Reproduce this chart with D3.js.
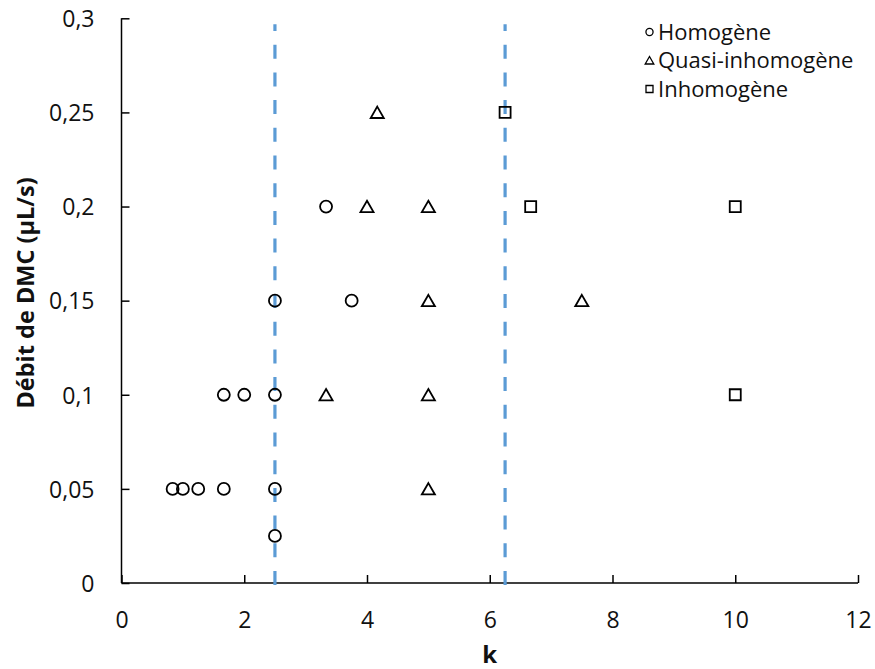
<!DOCTYPE html>
<html><head><meta charset="utf-8">
<script src="https://cdn.jsdelivr.net/npm/d3@7"></script>
<style>body{margin:0;background:#fff}svg{display:block}</style>
</head><body>
<svg id="c" width="875" height="669"></svg>
<script>
const homogeneK = [0.833, 1, 1.25, 1.667, 1.667, 2, 2.5, 2.5, 2.5, 2.5, 3.333, 3.75];
const homogeneQ = [0.05, 0.05, 0.05, 0.05, 0.1, 0.1, 0.1, 0.15, 0.05, 0.025, 0.2, 0.15];
const quasiK = [4.167, 4, 5, 5, 7.5, 3.333, 5, 5];
const quasiQ = [0.25, 0.2, 0.2, 0.15, 0.15, 0.1, 0.1, 0.05];
const inhomK = [6.25, 6.667, 10, 10];
const inhomQ = [0.25, 0.2, 0.2, 0.1];
const limitsK = [2.5, 6.25];
const xTicks = [0, 2, 4, 6, 8, 10, 12];
const yTicks = [0, 0.05, 0.1, 0.15, 0.2, 0.25, 0.3];
const legendLabels = ["Homogène", "Quasi-inhomogène", "Inhomogène"];
const xTitle = "k";
const yTitle = "Débit de DMC (µL/s)";

const svg = d3.select("#c");
const font = "'Open Sans', sans-serif";
const x = d3.scaleLinear().domain([0, 12]).range([121.5, 858]);
const y = d3.scaleLinear().domain([0, 0.3]).range([583, 18.3]);
const fmt = d => String(d).replace(".", ",");

// axes
const gx = svg.append("g").attr("transform", `translate(0,${y(0)})`)
  .call(d3.axisBottom(x).tickValues(xTicks).tickSize(-8).tickPadding(29).tickFormat(fmt));
const gy = svg.append("g").attr("transform", `translate(${x(0)},0)`)
  .call(d3.axisLeft(y).tickValues(yTicks).tickSize(-8).tickPadding(27).tickFormat(fmt));
[gx, gy].forEach(g => {
  g.select(".domain").attr("stroke", "#000").attr("stroke-width", 1.5);
  g.selectAll(".tick line").attr("stroke", "#000").attr("stroke-width", 1.5);
  g.selectAll(".tick text").attr("font-family", font).attr("font-size", 23).attr("fill", "#111");
});
gx.select(".domain").attr("d", `M${x(0)},0H${x(12)}`);
gy.select(".domain").attr("d", `M0,${y(0)}V${y(0.3)}`);
gy.selectAll(".tick text").attr("dy", "0.36em");

// dashed limit lines
svg.append("g").selectAll("line").data(limitsK).join("line")
  .attr("x1", d => x(d)).attr("x2", d => x(d))
  .attr("y1", y(0) + 2).attr("y2", y(0.3) + 6)
  .attr("stroke", "#5B9BD5").attr("stroke-width", 3.2)
  .attr("stroke-dasharray", "14,13.7");

const sym = {
  circle: d3.symbol().type(d3.symbolCircle),
  triangle: d3.symbol().type(d3.symbolTriangle),
  square: d3.symbol().type(d3.symbolSquare)
};
function pts(K, Q, type, size) {
  svg.append("g").selectAll("path").data(K.map((k, i) => [k, Q[i]])).join("path")
    .attr("transform", d => `translate(${x(d[0])},${y(d[1]) + (type === "triangle" ? 1.8 : 0)})`)
    .attr("d", sym[type].size(size)())
    .attr("fill", "none").attr("stroke", "#000").attr("stroke-width", 1.8);
}
pts(homogeneK, homogeneQ, "circle", 113);
pts(quasiK, quasiQ, "triangle", 74);
pts(inhomK, inhomQ, "square", 121);

// legend
const legTypes = ["circle", "triangle", "square"];
const legSizes = [40, 32, 49];
const leg = svg.append("g");
legendLabels.forEach((t, i) => {
  const cy = 32 + i * 28.5;
  leg.append("path").attr("transform", `translate(649.5,${cy + (i === 1 ? 1 : 0)})`)
    .attr("d", sym[legTypes[i]].size(legSizes[i])())
    .attr("fill", "none").attr("stroke", "#000").attr("stroke-width", 1.3);
  leg.append("text").attr("x", 658).attr("y", cy).attr("dy", "0.36em")
    .attr("font-family", font).attr("font-size", 22).attr("fill", "#111").text(t);
});

// titles
svg.append("text").attr("x", x(6)).attr("y", 663).attr("text-anchor", "middle")
  .attr("font-family", font).attr("font-weight", "bold").attr("font-size", 24).attr("fill", "#111").text(xTitle);
svg.append("text").attr("transform", `translate(34,293) rotate(-90)`).attr("text-anchor", "middle")
  .attr("font-family", font).attr("font-weight", "bold").attr("font-size", 23.5).attr("fill", "#111").text(yTitle);
</script>
</body></html>
